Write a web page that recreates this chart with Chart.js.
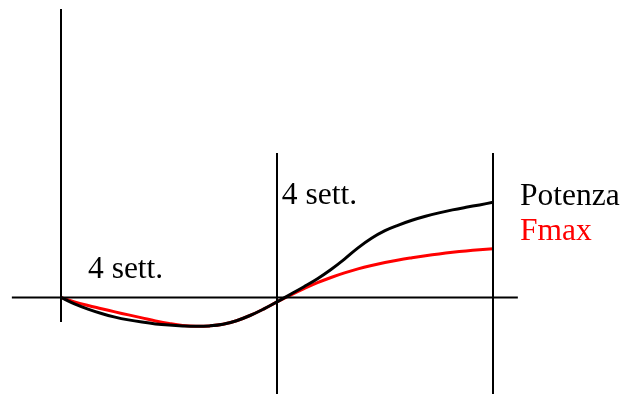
<!DOCTYPE html>
<html>
<head>
<meta charset="utf-8">
<script src="https://cdn.jsdelivr.net/npm/chart.js@4/dist/chart.umd.min.js"></script>
<style>
  html, body { margin: 0; padding: 0; background: #fff; }
  #wrap { width: 624px; height: 394px; }
</style>
</head>
<body>
<div id="wrap"><canvas id="periodChart" width="624" height="394"></canvas></div>
<script>
// Weeks of training (x, quarter-week steps) and relative change (y)
const weeks = [0, 0.25, 0.5, 0.75, 1, 1.25, 1.5, 1.75, 2, 2.25, 2.5, 2.75, 3, 3.25, 3.5, 3.75, 4,
  4.25, 4.5, 4.75, 5, 5.25, 5.5, 5.75, 6, 6.25, 6.5, 6.75, 7, 7.25, 7.5, 7.75, 8];
const potenza = [0, -1.6, -2.9, -4.0, -4.9, -5.6, -6.15, -6.6, -6.9, -7.1, -7.2, -7.1, -6.7, -5.8, -4.5, -2.9, -1.1,
  0.8, 2.7, 4.7, 7.0, 9.6, 12.4, 14.8, 16.7, 18.1, 19.3, 20.3, 21.15, 21.9, 22.55, 23.15, 23.8];
const fmax = [0, -1.1, -2.0, -2.8, -3.6, -4.35, -5.1, -5.85, -6.5, -7.0, -7.2, -7.1, -6.7, -5.8, -4.5, -2.9, -1.1,
  0.6, 2.2, 3.7, 5.0, 6.15, 7.15, 8.0, 8.75, 9.4, 9.95, 10.45, 10.9, 11.3, 11.65, 11.95, 12.2];

// Guide lines: time axis and block boundaries (weeks 0, 4, 8)
const timeAxis = [[-0.91, 0], [8.46, 0]];
const block0 = [[0, 72.1], [0, -6.1]];
const block4 = [[4, 36.1], [4, -25]];
const block8 = [[8, 36.1], [8, -25]];

const blockLabel = '4 sett.';
const seriesNames = ['Potenza', 'Fmax'];

const pts = (xs, ys) => xs.map((x, i) => ({ x, y: ys[i] }));
const seg = arr => arr.map(([x, y]) => ({ x, y }));
const guide = arr => ({ data: seg(arr), borderColor: '#000', borderWidth: 2, pointRadius: 0, tension: 0 });

const textLayer = {
  id: 'textLayer',
  afterDatasetsDraw(chart) {
    const { ctx, scales: { x, y } } = chart;
    ctx.save();
    ctx.font = '31.5px "Liberation Serif", "Times New Roman", serif';
    ctx.textBaseline = 'alphabetic';
    ctx.textAlign = 'left';
    ctx.fillStyle = '#000';
    ctx.fillText(blockLabel, x.getPixelForValue(0.5), y.getPixelForValue(4.8));
    ctx.fillText(blockLabel, x.getPixelForValue(4.09), y.getPixelForValue(23.3));
    ctx.fillText(seriesNames[0], x.getPixelForValue(8.5), y.getPixelForValue(23.1));
    ctx.fillStyle = '#ff0000';
    ctx.fillText(seriesNames[1], x.getPixelForValue(8.5), y.getPixelForValue(14.4));
    ctx.restore();
  }
};

new Chart(document.getElementById('periodChart'), {
  type: 'line',
  data: {
    datasets: [
      guide(timeAxis),
      guide(block0),
      guide(block4),
      guide(block8),
      { label: seriesNames[0], data: pts(weeks, potenza), borderColor: '#000', borderWidth: 3, pointRadius: 0, tension: 0.4 },
      { label: seriesNames[1], data: pts(weeks, fmax), borderColor: '#ff0000', borderWidth: 3, pointRadius: 0, tension: 0.4 }
    ]
  },
  options: {
    responsive: false,
    animation: false,
    layout: { padding: 0 },
    plugins: { legend: { display: false }, tooltip: { enabled: false } },
    scales: {
      x: { type: 'linear', display: false, min: -61 / 54, max: 563 / 54 },
      y: { type: 'linear', display: false, min: -24.125, max: 74.375 }
    }
  },
  plugins: [textLayer]
});
</script>
</body>
</html>
